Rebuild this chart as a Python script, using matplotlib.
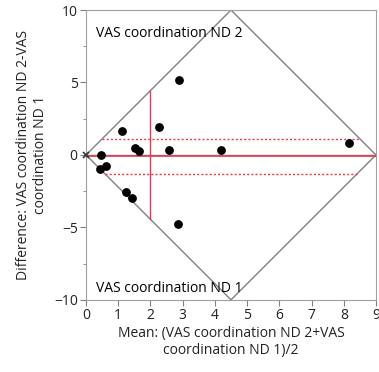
import numpy as np
import matplotlib.pyplot as plt

plt.rcParams['font.family'] = ['Open Sans', 'DejaVu Sans']

# Bland-Altman style: mean vs difference of the two ratings
mean_vals = [2.89, 1.13, 2.28, 1.52, 1.63, 2.59, 4.19, 8.16, 0.48,
             0.43, 0.63, 1.23, 1.43, 2.84]
diff_vals = [5.16, 1.64, 1.94, 0.47, 0.26, 0.33, 0.33, 0.84, 0.0,
             -0.95, -0.77, -2.56, -2.98, -4.77]

mean_diff = -0.05
ci_upper = 1.07
ci_lower = -1.30
mean_x = 2.0

x_min, x_max = 0, 9
y_max = 10

fig = plt.figure(figsize=(3.79, 3.72), dpi=100)
ax = fig.add_axes([0.227, 0.194, 0.765, 0.779])

gray = '#808080'
red = '#e63a50'

# diamond of possible values
x_mid = (x_min + x_max) / 2
ax.plot([x_min, x_mid, x_max, x_mid, x_min], [0, y_max, 0, -y_max, 0],
        color=gray, lw=1.0, zorder=2)
ax.plot([x_min, x_max], [0, 0], color=gray, lw=1.0, zorder=2)

# mean difference and its confidence limits, clipped to the diamond
slope = y_max / x_mid
ax.plot([x_min, x_max], [mean_diff, mean_diff], color=red, lw=1.2, zorder=3)
for lim in (ci_upper, ci_lower):
    dx = abs(lim) / slope
    ax.plot([x_min + dx, x_max - dx], [lim, lim], color=red, lw=1.0,
            ls=(0, (1.5, 1.5)), zorder=3)
ay = slope * mean_x
ax.plot([mean_x, mean_x], [-ay, ay], color=red, lw=1.0, zorder=3)

ax.scatter(mean_vals, diff_vals, s=28, color='black', zorder=4)
ax.plot([0], [0], marker='x', ms=4, color='#333333', mew=1.2,
        clip_on=False, zorder=5)

ax.text(0.3, 8.4, 'VAS coordination ND 2', fontsize=10, va='center')
ax.text(0.3, -9.25, 'VAS coordination ND 1', fontsize=10, va='center')

ax.set_xlim(x_min, x_max)
ax.set_ylim(-y_max, y_max)
ax.set_xticks(range(0, 10))
ax.set_yticks([-10, -5, 0, 5, 10])
ax.set_yticks(np.arange(-10, 10.1, 2.5), minor=True)
ax.tick_params(axis='both', which='major', length=4, color=gray,
               labelsize=10, pad=2, labelcolor='#222222')
ax.tick_params(axis='y', which='minor', length=2.5, color=gray)
for side in ax.spines.values():
    side.set_color('#a0a0a0')
    side.set_linewidth(0.8)

ax.set_xlabel('Mean: (VAS coordination ND 2+VAS\ncoordination ND 1)/2',
              fontsize=10, labelpad=2, color='#222222')
ax.set_ylabel('Difference: VAS coordination ND 2-VAS\ncoordination ND 1',
              fontsize=10, labelpad=4, color='#222222')

fig.savefig('out.png', dpi=100)
